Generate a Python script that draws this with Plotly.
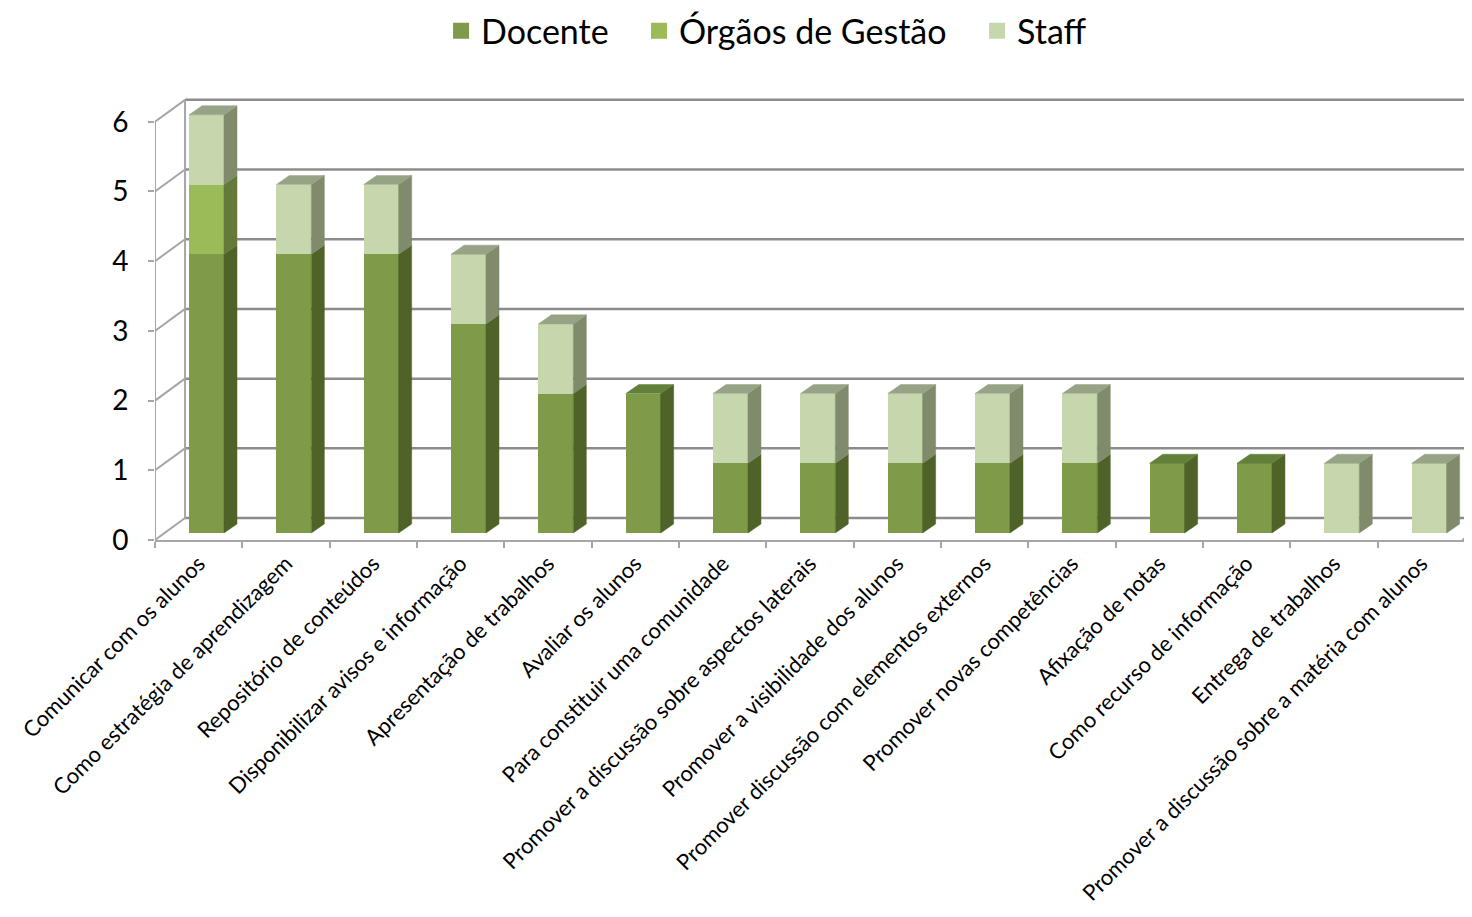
import plotly.graph_objects as go

categories = [
    "Comunicar com os alunos",
    "Como estratégia de aprendizagem",
    "Repositório de conteúdos",
    "Disponibilizar avisos e informação",
    "Apresentação de trabalhos",
    "Avaliar os alunos",
    "Para constituir uma comunidade",
    "Promover a discussão sobre aspectos laterais",
    "Promover a visibilidade dos alunos",
    "Promover discussão com elementos externos",
    "Promover novas competências",
    "Afixação de notas",
    "Como recurso de informação",
    "Entrega de trabalhos",
    "Promover a discussão sobre a matéria com alunos",
]
docente = [4, 4, 4, 3, 2, 2, 1, 1, 1, 1, 1, 1, 1, 0, 0]
orgaos = [1, 0, 0, 0, 0, 0, 0, 0, 0, 0, 0, 0, 0, 0, 0]
staff = [1, 1, 1, 1, 1, 0, 1, 1, 1, 1, 1, 0, 0, 1, 1]
series_names = ["Docente", "Órgãos de Gestão", "Staff"]
y_ticks = [0, 1, 2, 3, 4, 5, 6]

series_vals = [docente, orgaos, staff]
front_col = ["#7F9A48", "#9BBB59", "#C6D6AD"]
side_col = ["#4F6228", "#64793A", "#7F8B6B"]
top_col = ["#62803A", "#7F9A48", "#97A385"]

# pseudo-3D geometry (in data units)
n = len(categories)
bar_off = 0.39      # front face left offset inside category
bar_w = 0.40        # front face width
dx, dy = 0.149, 0.13          # bar depth
wall_dx, front_dy, back_dy = 0.344, -0.10, 0.215  # wall depth / front & back offsets
grid_col = "#8C8C8C"
wall_col = "#A6A6A6"

fig = go.Figure()

# front faces
for s in range(3):
    fig.add_trace(go.Bar(
        x=[i + bar_off + bar_w / 2 for i in range(n)], y=series_vals[s],
        width=bar_w, marker=dict(color=front_col[s], line=dict(width=0)),
        name=series_names[s], showlegend=False, hoverinfo="skip"))

# side and top faces
for s in range(3):
    sx, sy, tx, ty = [], [], [], []
    for i in range(n):
        base = sum(series_vals[k][i] for k in range(s))
        v = series_vals[s][i]
        if v <= 0:
            continue
        xl = i + bar_off
        xr = xl + bar_w
        sx += [xr, xr + dx, xr + dx, xr, xr, None]
        sy += [base, base + dy, base + v + dy, base + v, base, None]
        total = sum(series_vals[k][i] for k in range(3))
        above = sum(series_vals[k][i] for k in range(s + 1, 3))
        if above == 0:
            top = total
            tx += [xl, xl + dx, xr + dx, xr, xl, None]
            ty += [top, top + dy, top + dy, top, top, None]
    fig.add_trace(go.Scatter(x=sx, y=sy, fill="toself", fillcolor=side_col[s],
                             mode="lines", line=dict(width=0.5, color=side_col[s]),
                             showlegend=False, hoverinfo="skip"))
    if tx:
        fig.add_trace(go.Scatter(x=tx, y=ty, fill="toself", fillcolor=top_col[s],
                                 mode="lines", line=dict(width=0.5, color=top_col[s]),
                                 showlegend=False, hoverinfo="skip"))

# legend proxies, each in its own legend so spacing can match the reference
legend_names = ["legend", "legend2", "legend3"]
legend_x = [0.2172, 0.3675, 0.6242]
for s in range(3):
    fig.add_trace(go.Scatter(x=[None], y=[None], mode="markers",
                             marker=dict(symbol="square", size=20, color=front_col[s]),
                             name=series_names[s], legend=legend_names[s]))

# walls / gridlines (below bars)
shapes = []
for v in y_ticks:
    shapes.append(dict(type="line", xref="x", yref="y", layer="below",
                       x0=wall_dx, x1=n + 0.2, y0=v + back_dy, y1=v + back_dy,
                       line=dict(color=grid_col, width=2.5)))
    shapes.append(dict(type="line", xref="x", yref="y", layer="below",
                       x0=0, x1=wall_dx, y0=v + front_dy, y1=v + back_dy,
                       line=dict(color=wall_col, width=2)))
shapes.append(dict(type="line", xref="x", yref="y", layer="below",
                   x0=0, x1=0, y0=front_dy, y1=max(y_ticks) + front_dy,
                   line=dict(color=wall_col, width=2)))
shapes.append(dict(type="line", xref="x", yref="y", layer="below",
                   x0=wall_dx, x1=wall_dx, y0=back_dy, y1=max(y_ticks) + back_dy,
                   line=dict(color=wall_col, width=2)))
shapes.append(dict(type="line", xref="x", yref="y", layer="below",
                   x0=n - 0.03, x1=n + 0.2, y0=front_dy, y1=front_dy + 0.2,
                   line=dict(color=wall_col, width=2)))

legend_common = dict(orientation="h", xanchor="left", y=1.195, yref="paper",
                     yanchor="top", font=dict(size=34), itemsizing="trace",
                     itemwidth=30, bgcolor="rgba(0,0,0,0)")

# page has an 8px body margin: figure coords = page coords - 8
fig.update_layout(
    width=1464, height=909,
    margin=dict(l=147, r=0, t=82, b=377, autoexpand=False),
    paper_bgcolor="white", plot_bgcolor="white",
    font=dict(family="Lato, 'Open Sans', sans-serif", color="black"),
    barmode="stack", bargap=0,
    showlegend=True,
    legend=dict(x=legend_x[0], **legend_common),
    legend2=dict(x=legend_x[1], **legend_common),
    legend3=dict(x=legend_x[2], **legend_common),
    shapes=shapes,
)
fig.update_xaxes(
    automargin=False,
    range=[0, (1464 - 147) / 87.33],
    tickvals=[i + 0.5 for i in range(n)], ticktext=categories,
    tickangle=-45, tickfont=dict(size=22), ticks="", ticklen=0,
    showline=True, linecolor=wall_col, linewidth=2, mirror=False,
    showgrid=False, zeroline=False,
    minor=dict(tickvals=list(range(n + 1)), ticks="outside", ticklen=6,
               tickcolor=wall_col, tickwidth=2, showgrid=False),
)
fig.update_yaxes(
    automargin=False,
    range=[front_dy, (533 - 90) / 69.7],
    tickvals=[v + front_dy for v in y_ticks], ticktext=[str(v) for v in y_ticks],
    ticks="outside", ticklen=6, tickcolor=wall_col, tickwidth=2,
    ticklabelstandoff=14,
    tickfont=dict(size=28), showline=False, showgrid=False, zeroline=False,
)

fig.write_html("out.html")
